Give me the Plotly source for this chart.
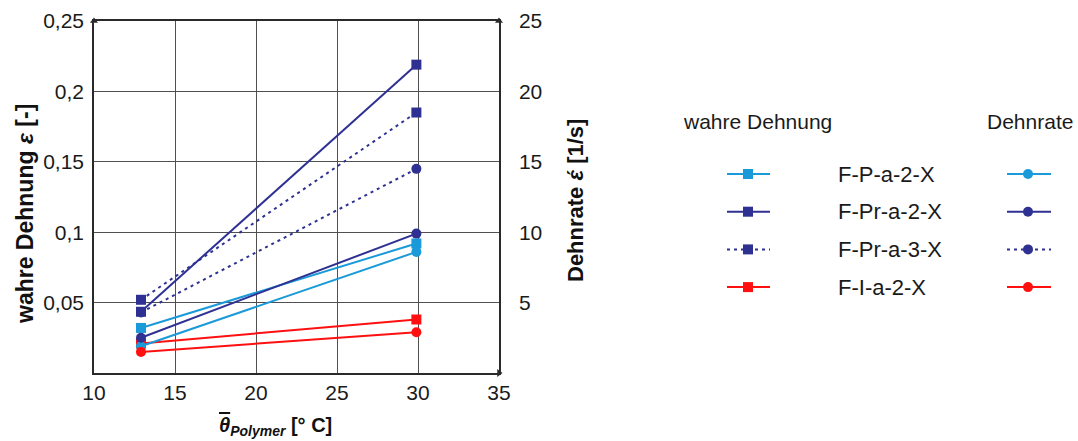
import plotly.graph_objects as go

W, H = 1078, 441

# Mean polymer temperature [°C]
temperature = [12.9, 29.9]

series_names = ["F-P-a-2-X", "F-Pr-a-2-X", "F-Pr-a-3-X", "F-I-a-2-X"]

# true strain [-] (left axis)
strain_fp_a2 = [0.032, 0.092]
strain_fpr_a2 = [0.0435, 0.219]
strain_fpr_a3 = [0.052, 0.185]
strain_fi_a2 = [0.021, 0.038]

# strain rate [1/s] (right axis)
rate_fp_a2 = [1.9, 8.6]
rate_fpr_a2 = [2.5, 9.9]
rate_fpr_a3 = [4.3, 14.5]
rate_fi_a2 = [1.5, 2.9]

x_ticks = [10, 15, 20, 25, 30, 35]
y_ticks = [0.05, 0.1, 0.15, 0.2, 0.25]
y_ticktext = ["0,05", "0,1", "0,15", "0,2", "0,25"]
y2_ticks = [5, 10, 15, 20, 25]

LIGHT = "#1a9ad8"
DARK = "#2e3192"
RED = "#ff1010"
AXIS = "#2a2a2a"
GRID = "#505050"
FONT = "Arial, Liberation Sans, sans-serif"

colors = [LIGHT, DARK, DARK, RED]
dashes = ["solid", "solid", "3px,4px", "solid"]
strains = [strain_fp_a2, strain_fpr_a2, strain_fpr_a3, strain_fi_a2]
rates = [rate_fp_a2, rate_fpr_a2, rate_fpr_a3, rate_fi_a2]

fig = go.Figure()

for name, col, dash, s in zip(series_names, colors, dashes, strains):
    fig.add_trace(go.Scatter(
        x=temperature, y=s, mode="lines+markers", name=name,
        line=dict(color=col, width=2, dash=dash),
        marker=dict(symbol="square", size=10, color=col),
        xaxis="x", yaxis="y", cliponaxis=False, showlegend=False))

for name, col, dash, r in zip(series_names, colors, dashes, rates):
    fig.add_trace(go.Scatter(
        x=temperature, y=r, mode="lines+markers", name=name,
        line=dict(color=col, width=2, dash=dash),
        marker=dict(symbol="circle", size=10, color=col),
        xaxis="x", yaxis="y2", cliponaxis=False, showlegend=False))

# arrowheads at the axis ends
fig.add_trace(go.Scatter(
    x=[x_ticks[0], x_ticks[-1]], y=[y_ticks[-1], y_ticks[-1]], mode="markers",
    marker=dict(symbol="triangle-up", size=7, color=AXIS),
    xaxis="x", yaxis="y", cliponaxis=False, showlegend=False, hoverinfo="skip"))
fig.add_trace(go.Scatter(
    x=[x_ticks[-1]], y=[0], mode="markers",
    marker=dict(symbol="triangle-right", size=7, color=AXIS),
    xaxis="x", yaxis="y", cliponaxis=False, showlegend=False, hoverinfo="skip"))

# hand-built two-column legend on a hidden pixel-scaled axis
row_y0, row_step = 174, 37.7
key_cols = [(727, 748, 770, "square"), (1007, 1028, 1051, "circle")]
for i, (name, col, dash) in enumerate(zip(series_names, colors, dashes)):
    yy = row_y0 + i * row_step
    for x0, xm, x1, sym in key_cols:
        fig.add_trace(go.Scatter(
            x=[x0, x1], y=[yy, yy], mode="lines",
            line=dict(color=col, width=2, dash=dash),
            xaxis="x3", yaxis="y3", showlegend=False, hoverinfo="skip"))
        fig.add_trace(go.Scatter(
            x=[xm], y=[yy], mode="markers",
            marker=dict(symbol=sym, size=10, color=col, opacity=1),
            xaxis="x3", yaxis="y3", showlegend=False, hoverinfo="skip"))
    fig.add_annotation(x=836, y=yy, xref="x3", yref="y3", text=name,
                       showarrow=False, xanchor="left", yanchor="middle",
                       font=dict(size=22, color="#1a1a1a", family=FONT))

fig.add_annotation(x=757, y=121, xref="x3", yref="y3", text="wahre Dehnung",
                   showarrow=False, xanchor="center", yanchor="middle",
                   font=dict(size=21, color="#1a1a1a", family=FONT))
fig.add_annotation(x=1030, y=121, xref="x3", yref="y3", text="Dehnrate",
                   showarrow=False, xanchor="center", yanchor="middle",
                   font=dict(size=21, color="#1a1a1a", family=FONT))

# axis titles
fig.add_annotation(x=25 / W, y=1 - 214 / H, xref="paper", yref="paper",
                   text="<b>wahre Dehnung <i>ε</i> [-]</b>", textangle=-90,
                   showarrow=False, xanchor="center", yanchor="middle",
                   font=dict(size=23, color="#111", family=FONT))
fig.add_annotation(x=575 / W, y=1 - 201 / H, xref="paper", yref="paper",
                   text="<b>Dehnrate <i>έ</i> [1/s]</b>", textangle=-90,
                   showarrow=False, xanchor="center", yanchor="middle",
                   font=dict(size=22, color="#111", family=FONT))
fig.add_annotation(x=275 / W, y=1 - 426 / H, xref="paper", yref="paper",
                   text="<b><i><span style='text-decoration:overline'>θ</span></i>"
                        "<sub><i>Polymer</i></sub> [° C]</b>",
                   showarrow=False, xanchor="center", yanchor="middle",
                   font=dict(size=20, color="#111", family=FONT))

tick_font = dict(size=21, color="#1a1a1a", family=FONT)
x_dom = [94 / W, 499 / W]
y_dom = [68 / H, 420 / H]

fig.update_layout(
    width=W, height=H,
    margin=dict(l=0, r=0, t=0, b=0, pad=0, autoexpand=False),
    paper_bgcolor="white", plot_bgcolor="rgba(0,0,0,0)",
    showlegend=False,
    xaxis=dict(domain=x_dom, range=[10, 35], tickvals=x_ticks,
               showgrid=True, gridcolor=GRID, gridwidth=1.2,
               showline=True, linecolor=AXIS, linewidth=1.5, mirror=True,
               ticks="", tickfont=tick_font, ticklabelstandoff=0,
               zeroline=False, fixedrange=True, automargin=False),
    yaxis=dict(domain=y_dom, range=[0, 0.25], tickvals=y_ticks,
               ticktext=y_ticktext, showgrid=True, gridcolor=GRID,
               gridwidth=1.2, showline=True, linecolor=AXIS, linewidth=1.5,
               ticks="", tickfont=tick_font, ticklabelstandoff=4,
               zeroline=False, fixedrange=True, automargin=False),
    yaxis2=dict(domain=y_dom, range=[0, 25], tickvals=y2_ticks,
                overlaying="y", side="right", anchor="x",
                showgrid=False, showline=True, linecolor=AXIS, linewidth=1.5,
                ticks="", tickfont=tick_font, ticklabelstandoff=14,
                zeroline=False, fixedrange=True, automargin=False),
    xaxis3=dict(domain=[0, 1], range=[0, W], visible=False, anchor="y3",
                fixedrange=True, automargin=False),
    yaxis3=dict(domain=[0, 1], range=[H, 0], visible=False, anchor="x3",
                fixedrange=True, automargin=False),
)

fig.write_html("out.html")
